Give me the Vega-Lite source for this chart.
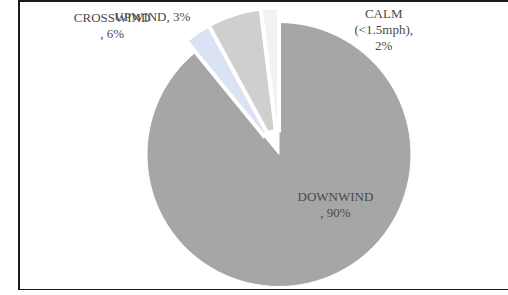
{
  "$schema": "https://vega.github.io/schema/vega-lite/v6.json",
  "width": 492,
  "height": 289,
  "autosize": {"type": "none"},
  "padding": {"left": 19, "top": 1, "right": 0, "bottom": 0},
  "background": "white",
  "view": {"stroke": "#1a1a1a", "strokeWidth": 2},
  "config": {"text": {"lineBreak": "\n", "lineHeight": 16, "font": "Liberation Serif", "fontSize": 13, "fill": "#4a4a4a", "baseline": "top", "align": "center"}},
  "data": {
    "values": [
      {"cat": "DOWNWIND", "value": 90, "ord": 1, "label": "DOWNWIND\n, 90%"},
      {"cat": "UPWIND", "value": 3, "ord": 2, "label": "UPWIND, 3%"},
      {"cat": "CROSSWIND", "value": 6, "ord": 3, "label": "CROSSWIND\n, 6%"},
      {"cat": "CALM", "value": 2, "ord": 4, "label": "CALM\n(<1.5mph),\n2%"}
    ]
  },
  "encoding": {
    "theta": {"field": "value", "type": "quantitative", "stack": true},
    "order": {"field": "ord", "type": "quantitative"}
  },
  "layer": [
    {
      "mark": {"type": "arc", "radius": 132, "x": {"expr": "width/2 + 14"}, "y": {"expr": "height/2 + 9"}, "stroke": "white", "strokeWidth": 1},
      "encoding": {
        "color": {"field": "cat", "type": "nominal", "legend": null,
          "scale": {"domain": ["DOWNWIND", "UPWIND", "CROSSWIND", "CALM"], "range": ["#a6a6a6", "#dae3f3", "#d0cece", "#f2f2f2"]}},
        "opacity": {"condition": {"test": "datum.cat == 'DOWNWIND'", "value": 1}, "value": 0}
      }
    },
    {
      "mark": {"type": "arc", "radius": 147, "radius2": 24, "x": {"expr": "width/2 + 14"}, "y": {"expr": "height/2 + 9"}, "stroke": "white", "strokeWidth": 4},
      "encoding": {
        "color": {"field": "cat", "type": "nominal", "legend": null},
        "opacity": {"condition": {"test": "datum.cat == 'DOWNWIND'", "value": 0}, "value": 1}
      }
    },
    {
      "mark": {"type": "text", "radius": 40, "x": {"expr": "width/2 + 14"}, "y": {"expr": "height/2 + 9"}, "dx": 43, "dy": -1},
      "encoding": {
        "text": {"field": "label"},
        "opacity": {"condition": {"test": "datum.cat == 'DOWNWIND'", "value": 1}, "value": 0}
      }
    },
    {
      "mark": {"type": "text", "radius": 150, "x": {"expr": "width/2 + 14"}, "y": {"expr": "height/2 + 9"}, "dx": -43, "dy": -19},
      "encoding": {
        "text": {"field": "label"},
        "opacity": {"condition": {"test": "datum.cat == 'UPWIND'", "value": 1}, "value": 0}
      }
    },
    {
      "mark": {"type": "text", "radius": 150, "x": {"expr": "width/2 + 14"}, "y": {"expr": "height/2 + 9"}, "dx": -121, "dy": 0},
      "encoding": {
        "text": {"field": "label"},
        "opacity": {"condition": {"test": "datum.cat == 'CROSSWIND'", "value": 1}, "value": 0}
      }
    },
    {
      "mark": {"type": "text", "radius": 150, "x": {"expr": "width/2 + 14"}, "y": {"expr": "height/2 + 9"}, "dx": 114, "dy": 3},
      "encoding": {
        "text": {"field": "label"},
        "opacity": {"condition": {"test": "datum.cat == 'CALM'", "value": 1}, "value": 0}
      }
    }
  ]
}
